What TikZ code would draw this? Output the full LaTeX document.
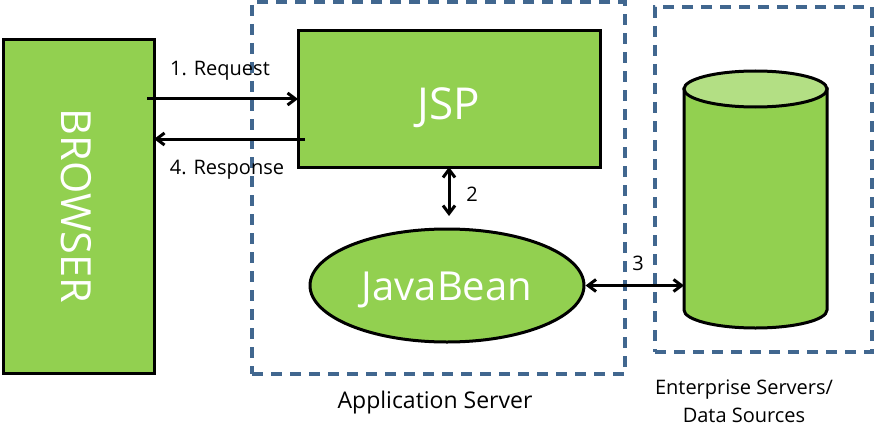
\documentclass[tikz,border=0pt]{standalone}
\usepackage{fontspec}
\setmainfont{Open Sans}
\usetikzlibrary{arrows.meta,shapes.geometric}
\definecolor{grn}{HTML}{92D050}
\definecolor{lgrn}{HTML}{B3DF84}
\definecolor{dashc}{HTML}{41678F}
\tikzset{
  x=1pt,y=-1pt,
  solidbox/.style={draw=black,line width=3pt,fill=grn,text=white,inner sep=0pt,anchor=center},
  zonebox/.style={draw=dashc,line width=3.1pt,dash pattern=on 11pt off 8pt},
  conn/.style={draw=black,line width=3pt,{Straight Barb[length=8pt,width=12pt]}-{Straight Barb[length=8pt,width=12pt]}},
  oneway/.style={draw=black,line width=3pt,-{Straight Barb[length=8pt,width=12pt]}},
  lbl/.style={text=black,font=\fontsize{20}{28}\selectfont,inner sep=0pt,align=center},
  applbl/.style={text=black,font=\fontsize{23}{28}\selectfont,inner sep=0pt,align=center},
  big/.style={font=\fontsize{40}{48}\selectfont}
}
\begin{document}
\begin{tikzpicture}
\useasboundingbox (0,0) rectangle (874,433);
\fill[white] (0,0) rectangle (874,433);
% zones
\node[zonebox,minimum width=373pt,minimum height=372pt,inner sep=0pt] (app) at (438.5,188) {};
\node[zonebox,minimum width=217pt,minimum height=345pt,inner sep=0pt] (ent) at (763.5,179.5) {};
% browser
\node[solidbox,minimum width=151pt,minimum height=333pt] (browser) at (78.5,206.5) {};
\node[text=white,font=\fontsize{41.5}{48}\selectfont,rotate=-90,inner sep=0pt] (browsertxt) at (76,206) {BROWSER};
% JSP
\node[solidbox,font=\fontsize{44}{52}\selectfont,minimum width=302pt,minimum height=136pt] (jsp) at (449,99) {\rule{0pt}{50pt}JSP};
% JavaBean
\node[solidbox,big,ellipse,minimum width=274pt,minimum height=113pt] (bean) at (447,285.5) {\rule{0pt}{38pt}JavaBean};
% cylinder
\path[draw=black,line width=3pt,fill=grn] (684,89) -- (684,310) arc[start angle=180,end angle=360,x radius=71.5,y radius=-18] -- (827,89) -- cycle;
\path[draw=black,line width=3pt,fill=lgrn] (755.5,89) ellipse[x radius=71.5,y radius=18];
\coordinate (dbl) at (684,285.5);
% connectors
\coordinate (reqs) at (147,99);
\coordinate (reqe) at (298,99);
\coordinate (ress) at (305,139);
\coordinate (rese) at (154,139);
\draw[oneway] (reqs) -- (reqe);
\draw[oneway] (ress) -- (rese);
\draw[conn] (449,167) -- (449,216);
\draw[conn] (bean.east) -- (dbl);
% labels
\node[lbl] (l1) at (220,71) {1. Request};
\node[lbl] (l4) at (227,170) {4. Response};
\node[lbl] (l2) at (472,194) {2};
\node[lbl] (l3) at (638,263) {3};
\node[applbl] (l5) at (435,403) {Application Server};
\node[lbl,anchor=center] (l6) at (744,401) {Enterprise Servers/\\Data Sources};
\end{tikzpicture}
\end{document}
